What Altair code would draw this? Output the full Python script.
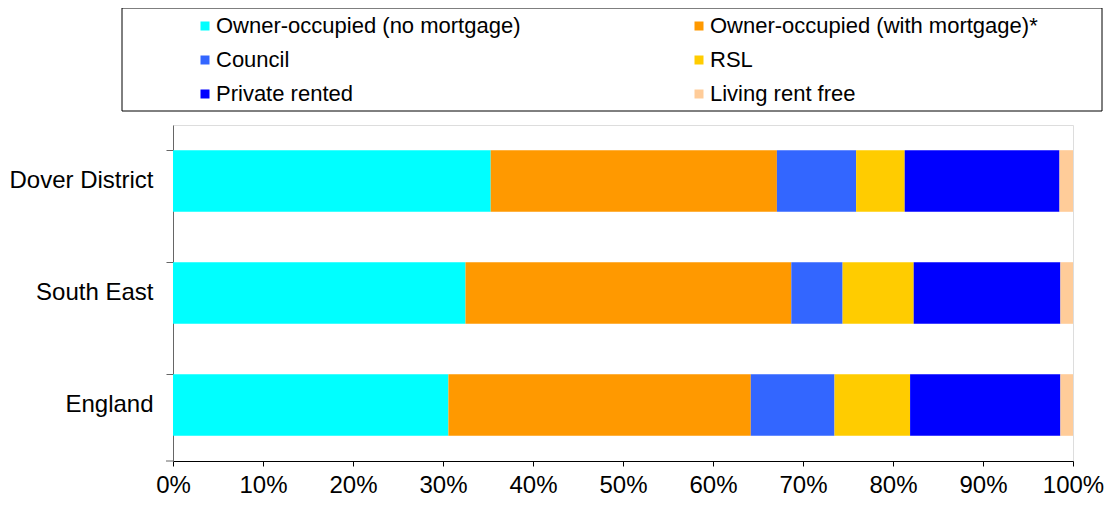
import altair as alt
import pandas as pd

areas = ["Dover District", "South East", "England"]
tenures = [
    "Owner-occupied (no mortgage)",
    "Owner-occupied (with mortgage)*",
    "Council",
    "RSL",
    "Private rented",
    "Living rent free",
]
colors = ["#00FFFF", "#FF9900", "#3366FF", "#FFCC00", "#0000FF", "#FFCC99"]

dover = [35.3, 31.8, 8.8, 5.4, 17.2, 1.5]
south_east = [32.5, 36.2, 5.7, 7.9, 16.3, 1.4]
england = [30.6, 33.6, 9.3, 8.4, 16.7, 1.4]

x_ticks = [0, 10, 20, 30, 40, 50, 60, 70, 80, 90, 100]

# legend is laid out column by column (3 rows x 2 columns)
legend_order = [0, 2, 4, 1, 3, 5]
legend_domain = [tenures[i] for i in legend_order]
legend_range = [colors[i] for i in legend_order]

rows = []
for area, vals in zip(areas, [dover, south_east, england]):
    for i, (t, v) in enumerate(zip(tenures, vals)):
        rows.append({"area": area, "tenure": t, "value": v, "idx": i})
df = pd.DataFrame(rows)

FONT = "Liberation Sans"
W, H = 900, 336
PAD_L, PAD_T = 165, 117
PAD_R = 1097 - PAD_L - W
PAD_B = 492 - PAD_T - H

bars = alt.Chart(df).mark_bar().encode(
    y=alt.Y(
        "area:N",
        sort=areas,
        title=None,
        scale=alt.Scale(paddingInner=0.45, paddingOuter=0.225),
        axis=alt.Axis(
            bandPosition=0,
            tickSize=7,
            labelPadding=13,
            labelFontSize=24,
            labelFont=FONT,
            labelColor="#000000",
            domainColor="#666666",
            tickColor="#666666",
            labelAngle=0,
        ),
    ),
    x=alt.X(
        "value:Q",
        stack="zero",
        title=None,
        scale=alt.Scale(domain=[0, 100], nice=False),
        axis=alt.Axis(
            values=x_ticks,
            labelExpr="datum.value + '%'",
            grid=False,
            tickSize=5,
            labelPadding=7,
            labelFontSize=24,
            labelFont=FONT,
            labelColor="#000000",
            domainColor="#000000",
            tickColor="#000000",
            labelFlush=False,
        ),
    ),
    color=alt.Color(
        "tenure:N",
        scale=alt.Scale(domain=legend_domain, range=legend_range),
        legend=alt.Legend(
            title=None,
            orient="none",
            legendX=21,
            legendY=-110,
            columns=2,
            columnPadding=167,
            rowPadding=12,
            symbolType="square",
            symbolSize=81,
            symbolStrokeWidth=0,
            labelOffset=0,
            labelFontSize=22,
            labelFont=FONT,
            labelColor="#000000",
            labelLimit=500,
            padding=0,
        ),
    ),
    order=alt.Order("idx:Q"),
)

frame = alt.Chart(pd.DataFrame({"a": [0]})).mark_rect(
    fill=None, stroke="#000000", strokeWidth=1
).encode(
    x=alt.value(-51), x2=alt.value(929), y=alt.value(-117), y2=alt.value(-14)
)

bottom_tick = alt.Chart(pd.DataFrame({"a": [0]})).mark_rule(
    color="#666666", strokeWidth=1
).encode(
    x=alt.value(-7), x2=alt.value(0), y=alt.value(H)
)

chart = alt.layer(bars, frame, bottom_tick).properties(
    width=W,
    height=H,
    autosize=alt.AutoSizeParams(type="none"),
    padding={"left": PAD_L, "top": PAD_T, "right": PAD_R, "bottom": PAD_B},
).configure_view(stroke=None).configure(background="#FFFFFF")

chart.save("out.html", embed_options={"renderer": "svg", "actions": False})
